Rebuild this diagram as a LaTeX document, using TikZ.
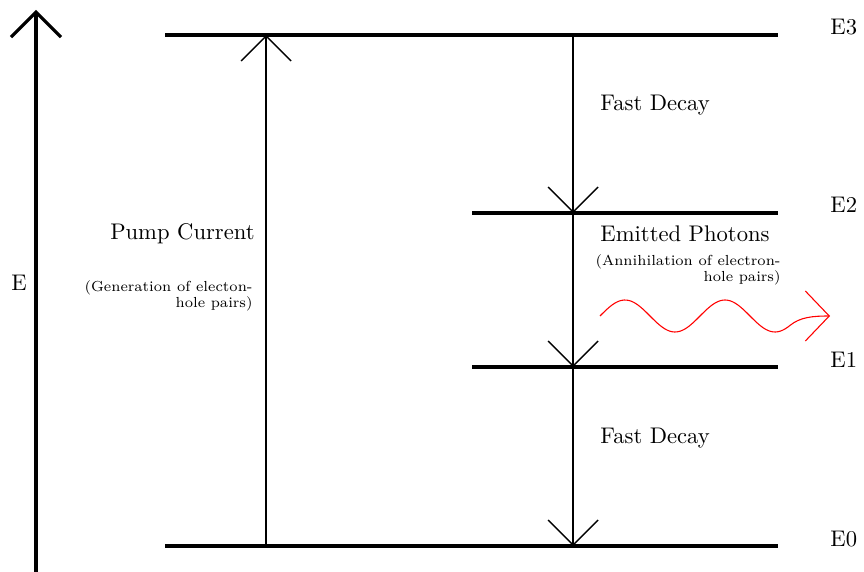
\documentclass[tikz,border=0pt]{standalone}
\usetikzlibrary{arrows.meta}
\begin{document}
\begin{tikzpicture}[x=0.46pt,y=-0.46pt,
  level/.style={line width=1.4pt},
  thinarrow/.style={line width=0.65pt,-{Straight Barb[length=11.5pt,width=23pt,line width=0.65pt]}},
  axisarrow/.style={line width=1.4pt,-{Straight Barb[length=11.5pt,width=23pt,line width=1.4pt]}},
  wave/.style={red,line width=0.5pt,-{Straight Barb[length=11pt,width=23pt,line width=0.5pt]}},
  lbl/.style={font=\fontsize{10.4}{12}\selectfont,inner sep=0pt},
  small/.style={font=\fontsize{6.7}{7.6}\selectfont,inner sep=0pt,align=right}]
\useasboundingbox (0,0) rectangle (864,572);
% coordinates
\coordinate (e3l) at (165,35); \coordinate (e3r) at (778,35);
\coordinate (e2l) at (472,213); \coordinate (e2r) at (778,213);
\coordinate (e1l) at (472,367); \coordinate (e1r) at (778,367);
\coordinate (e0l) at (165,546); \coordinate (e0r) at (778,546);
\coordinate (axb) at (36,572); \coordinate (axt) at (36,10);
\coordinate (pb) at (266,546); \coordinate (pt) at (266,35);
\coordinate (d3) at (573,35); \coordinate (d2) at (573,213);
\coordinate (d1) at (573,367); \coordinate (d0) at (573,546);
% levels
\draw[level] (e3l) -- (e3r);
\draw[level] (e2l) -- (e2r);
\draw[level] (e1l) -- (e1r);
\draw[level] (e0l) -- (e0r);
% axis
\draw[axisarrow] (axb) -- (axt);
\node[lbl] (E) at (19,283) {E};
% level labels
\node[lbl,anchor=west] (L3) at (830,27) {E3};
\node[lbl,anchor=west] (L2) at (830,205) {E2};
\node[lbl,anchor=west] (L1) at (830,360) {E1};
\node[lbl,anchor=west] (L0) at (830,539) {E0};
% arrows
\draw[thinarrow] (pb) -- (pt);
\draw[thinarrow] (d3) -- (d2);
\draw[thinarrow] (d2) -- (d1);
\draw[thinarrow] (d1) -- (d0);
% texts
\node[lbl,anchor=west] (fd1) at (600,105) {Fast Decay};
\node[lbl,anchor=west] (fd2) at (600,438) {Fast Decay};
\node[lbl,anchor=east] (pc) at (255,234) {Pump Current};
\node[small,anchor=north east] (gen) at (253,280) {(Generation of electon-\\hole pairs)};
\node[lbl,anchor=west] (ep) at (600,234) {Emitted Photons};
\node[small,anchor=north east] (ann) at (781,254) {(Annihilation of electron-\\hole pairs)};
% photon wave
\coordinate (ws) at (600,316);
\coordinate (we) at (830,316);
\draw[wave] plot[domain=600:790,samples=80,smooth] (\x,{316-16*sin(3.6*(\x-600))})
  .. controls (800,317.3) and (812,316) .. (we);
\end{tikzpicture}
\end{document}
